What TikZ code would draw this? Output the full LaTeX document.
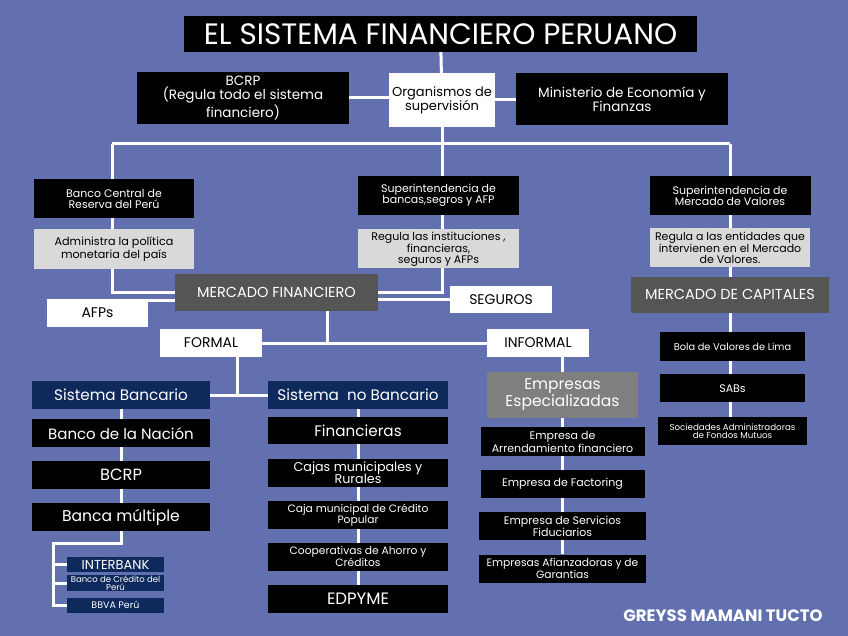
\documentclass[tikz,border=0pt]{standalone}
\usepackage{fontspec}
\setmainfont{Poppins}
\usepackage{xcolor}
\usepackage{tikz}
\usetikzlibrary{positioning, backgrounds}
\definecolor{fondo}{RGB}{98,112,176}
\definecolor{marino}{RGB}{14,42,92}
\definecolor{grisclaro}{RGB}{217,217,217}
\definecolor{grisosc}{RGB}{85,85,85}
\definecolor{grismed}{RGB}{127,127,127}
\newcommand{\fs}[2]{\fontsize{#1}{#2}\selectfont}

\begin{document}
\begin{tikzpicture}[
  x=1pt, y=-1pt,
  caja/.style={rectangle, inner sep=0pt, align=center},
  tam/.style 2 args={minimum width=#1pt, minimum height=#2pt},
  titulo/.style={caja, fill=black, text=white, font=\fs{29.5}{33}},
  negro/.style={caja, fill=black, text=white},
  gris/.style={caja, fill=grisclaro, text=black},
  oscuro/.style={caja, fill=grisosc, text=white},
  blanco/.style={caja, fill=white, text=black},
  azul/.style={caja, fill=marino, text=white},
  linea/.style={draw=white, line width=3pt},
]
\useasboundingbox (0,0) rectangle (848,636);
% --- cabecera ---
\node[titulo, tam={513}{36}] (T) at (440.5,34) {EL SISTEMA FINANCIERO PERUANO};
\node[negro, tam={212}{52}, font=\fs{13.5}{14}] (BC) at (243,98) {BCRP\\(Regula todo el sistema\\financiero)};
\node[blanco, tam={106}{54}, font=\fs{13}{14.5}] (OS) at (442,100) {Organismos de\\supervisión};
\node[negro, tam={212}{52}, font=\fs{13.5}{14}] (ME) at (622,99) {Ministerio de Economía y\\Finanzas};
% --- entes reguladores ---
\node[negro, tam={160}{39}, font=\fs{11}{11}] (BR) at (114,198.5) {Banco Central de\\Reserva del Perú};
\node[gris, tam={160}{40}, font=\fs{11.2}{11}, below=11pt of BR] (AD) {Administra la política\\monetaria del país};
\node[negro, tam={161}{39}, font=\fs{11}{11}] (SBS) at (438.5,195.5) {Superintendencia de\\bancas,segros y AFP};
\node[gris, tam={161}{39}, font=\fs{11}{10.5}, below=14pt of SBS] (RSBS) {Regula las instituciones ,\\financieras,\\seguros y AFPs};
\node[negro, tam={161}{39}, font=\fs{11}{11}] (SMV) at (730,195.5) {Superintendencia de\\Mercado de Valores};
\node[gris, tam={160}{39}, font=\fs{11}{10.5}, below=13pt of SMV] (RSMV) {Regula a las entidades que\\intervienen en el Mercado\\de Valores.};
% --- mercados ---
\node[oscuro, tam={203}{37}, font=\fs{14.5}{16}] (MF) at (276.5,292.5) {MERCADO FINANCIERO};
\node[oscuro, tam={198}{36}, font=\fs{14.5}{16}, below=9pt of RSMV] (MC) {MERCADO DE CAPITALES};
\node[blanco, tam={101}{28}, font=\fs{14}{15}] (AF) at (97.5,313) {AFPs};
\node[blanco, tam={102}{27}, font=\fs{14}{15}] (SE) at (501,299.5) {SEGUROS};
\node[blanco, tam={102}{28}, font=\fs{14}{15}] (FO) at (211,343) {FORMAL};
\node[blanco, tam={102}{28}, font=\fs{14}{15}] (IN) at (538,343) {INFORMAL};
% --- sistema formal ---
\node[azul, tam={178}{28}, font=\fs{15.2}{16}] (SBAN) at (121,395) {Sistema Bancario};
\node[negro, tam={178}{28}, font=\fs{15}{16}, below=10pt of SBAN] (BN) {Banco de la Nación};
\node[negro, tam={178}{28}, font=\fs{16.3}{17}, below=13pt of BN] (BCR) {BCRP};
\node[negro, tam={178}{28}, font=\fs{15.6}{16}, below=14pt of BCR] (BM) {Banca múltiple};
\node[azul, tam={97}{15}, font=\fs{13}{13}] (IB) at (115.5,564.5) {INTERBANK};
\node[azul, tam={97}{16}, font=\fs{8.5}{8.5}, below=3pt of IB] (BCP) {Banco de Crédito del\\Perú};
\node[azul, tam={97}{15}, font=\fs{9.5}{10}, below=6pt of BCP] (BBVA) {BBVA Perú};
\node[azul, tam={180}{28}, font=\fs{15.2}{16}] (SNB) at (358,395) {Sistema\ \ no Bancario};
\node[negro, tam={180}{27}, font=\fs{15.2}{16}, below=8pt of SNB] (FI) {Financieras};
\node[negro, tam={180}{28}, font=\fs{12.7}{12.7}, below=14pt of FI] (CM) {Cajas municipales y\\Rurales};
\node[negro, tam={180}{28}, font=\fs{10.7}{11}, below=14pt of CM] (CP) {Caja municipal de Crédito\\Popular};
\node[negro, tam={180}{28}, font=\fs{10.7}{11}, below=13pt of CP] (CO) {Cooperativas de Ahorro y\\Créditos};
\node[negro, tam={180}{28}, font=\fs{16.5}{17}, below=14pt of CO] (ED) {EDPYME};
% --- sistema informal ---
\node[caja, fill=grismed, text=white, tam={151}{46}, font=\fs{15.5}{15}] (EE) at (562.5,395) {Empresas\\Especializadas};
\node[negro, tam={164}{29}, font=\fs{11}{10.5}, below=9pt of EE] (AR) {Empresa de\\Arrendamiento financiero};
\node[negro, tam={164}{28}, font=\fs{11}{11}, below=13pt of AR] (FA) {Empresa de Factoring};
\node[negro, tam={167}{28}, font=\fs{11}{10.7}, below=14pt of FA] (SF) {Empresa de Servicios\\Fiduciarios};
\node[negro, tam={167}{28}, font=\fs{10.7}{10.5}, below=14pt of SF] (AG) {Empresas Afianzadoras y de\\Garantias};
% --- mercado de capitales ---
\node[negro, tam={145}{29}, font=\fs{9.8}{11}] (BV) at (732.5,346.5) {Bola de Valores de Lima};
\node[negro, tam={145}{28}, font=\fs{11}{11}, below=13pt of BV] (SA) {SABs};
\node[negro, tam={149}{28}, font=\fs{8.7}{8}, below=14pt of SA] (SO) {Sociedades Administradoras\\de Fondos Mutuos};
\node[text=white, font=\fs{16.5}{18}\bfseries] (AU) at (723,616) {GREYSS MAMANI TUCTO};
% --- conectores (detras de las cajas) ---
\begin{scope}[on background layer]
\fill[fondo] (0,0) rectangle (848,636);
\coordinate (bi) at (112,144);
\coordinate (bd) at (730,144);
\coordinate (fi) at (327,343);
\coordinate (fs) at (237,395);
\coordinate (ra) at (53,543);
\draw[linea] (T) -- (OS);
\draw[linea] (BC) -- (BC -| OS);
\draw[linea] (OS) -- (OS -| ME);
\draw[linea] (bi) -- (bd);
\draw[linea] (OS) -- (OS |- bi);
\draw[linea] (bi) |- (MF);
\draw[linea] (OS |- bi) |- (MF);
\draw[linea] (bd) -- (bd |- SO);
\draw[linea] ([yshift=-7.5pt]MF.center) -- ([yshift=-7.5pt]MF.center -| AF.east);
\draw[linea] (SE) -- (SE -| MF);
\draw[linea] (MF -| fi) -- (fi);
\draw[linea] (FO) -- (IN);
\draw[linea] (FO -| fs) -- (fs);
\draw[linea] (SBAN) -- (SNB);
\draw[linea] (SBAN) -- (BM);
\draw[linea] (BM) |- (ra) |- (BBVA);
\draw[linea] (ra |- IB) -- (IB);
\draw[linea] (ra |- BCP) -- (BCP);
\draw[linea] (SNB) -- (ED);
\draw[linea] (IN -| EE) -- (AG);
\end{scope}
\end{tikzpicture}
\end{document}
